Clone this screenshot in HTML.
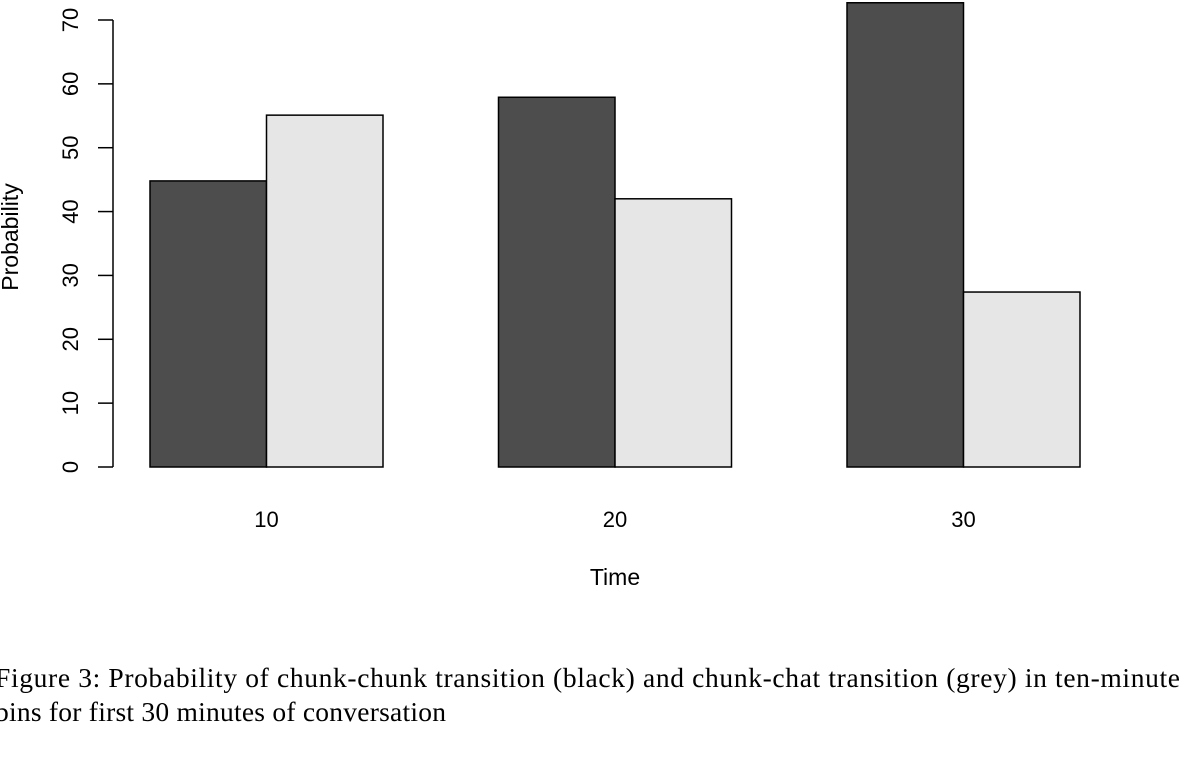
<!DOCTYPE html>
<html><head><meta charset="utf-8"><style>
html,body{margin:0;padding:0;background:#fff;width:1204px;height:759px;overflow:hidden}
</style></head><body>
<svg id="chart" width="1204" height="759" xmlns="http://www.w3.org/2000/svg" font-family="Liberation Sans, sans-serif">
<text transform="translate(18,237) rotate(-90)" text-anchor="middle" font-size="23">Probability</text>
<text x="615" y="585" text-anchor="middle" font-size="23">Time</text>
<text x="-5" y="687" font-family="Liberation Serif, serif" font-size="27.5" textLength="1185" lengthAdjust="spacing">Figure 3:  Probability of chunk-chunk transition (black) and chunk-chat transition (grey) in ten-minute</text>
<text x="-5" y="721" font-family="Liberation Serif, serif" font-size="27.5" textLength="451" lengthAdjust="spacing">bins for first 30 minutes of conversation</text>
</svg>
<script>
const categories = ["10","20","30"];
const blackValues = [44.8, 57.9, 72.7];
const greyValues = [55.1, 42.0, 27.4];
const yTicks = [0,10,20,30,40,50,60,70];

const NS = "http://www.w3.org/2000/svg";
const svg = document.getElementById('chart');
const y = v => 467 - v * (447/70);
const groupX = i => 150 + i * 348.5;
const barW = 116.5;

function mk(tag, attrs){const e=document.createElementNS(NS,tag);for(const k in attrs)e.setAttribute(k,attrs[k]);svg.appendChild(e);return e;}

const axis = mk('line',{x1:113,y1:y(0),x2:113,y2:y(70),stroke:'#000','stroke-width':1.5});


yTicks.forEach(t=>{
  const l = mk('line',{x1:98,y1:y(t),x2:113,y2:y(t),stroke:'#000','stroke-width':1.5});
  
  
  const tx = mk('text',{transform:`translate(78,${y(t)}) rotate(-90)`,'text-anchor':'middle','font-size':22});
  tx.textContent = t;
  
  
});
categories.forEach((c,i)=>{
  const x0 = groupX(i);
  const b = mk('rect',{x:x0,y:y(blackValues[i]),width:barW,height:y(0)-y(blackValues[i]),fill:'#4d4d4d',stroke:'#000','stroke-width':1.5});
  
  
  const g = mk('rect',{x:x0+barW,y:y(greyValues[i]),width:barW,height:y(0)-y(greyValues[i]),fill:'#e6e6e6',stroke:'#000','stroke-width':1.5});
  
  
  const t = mk('text',{x:x0+barW,y:527,'text-anchor':'middle','font-size':22});
  t.textContent = c;
  
  
});
</script>
</body></html>
